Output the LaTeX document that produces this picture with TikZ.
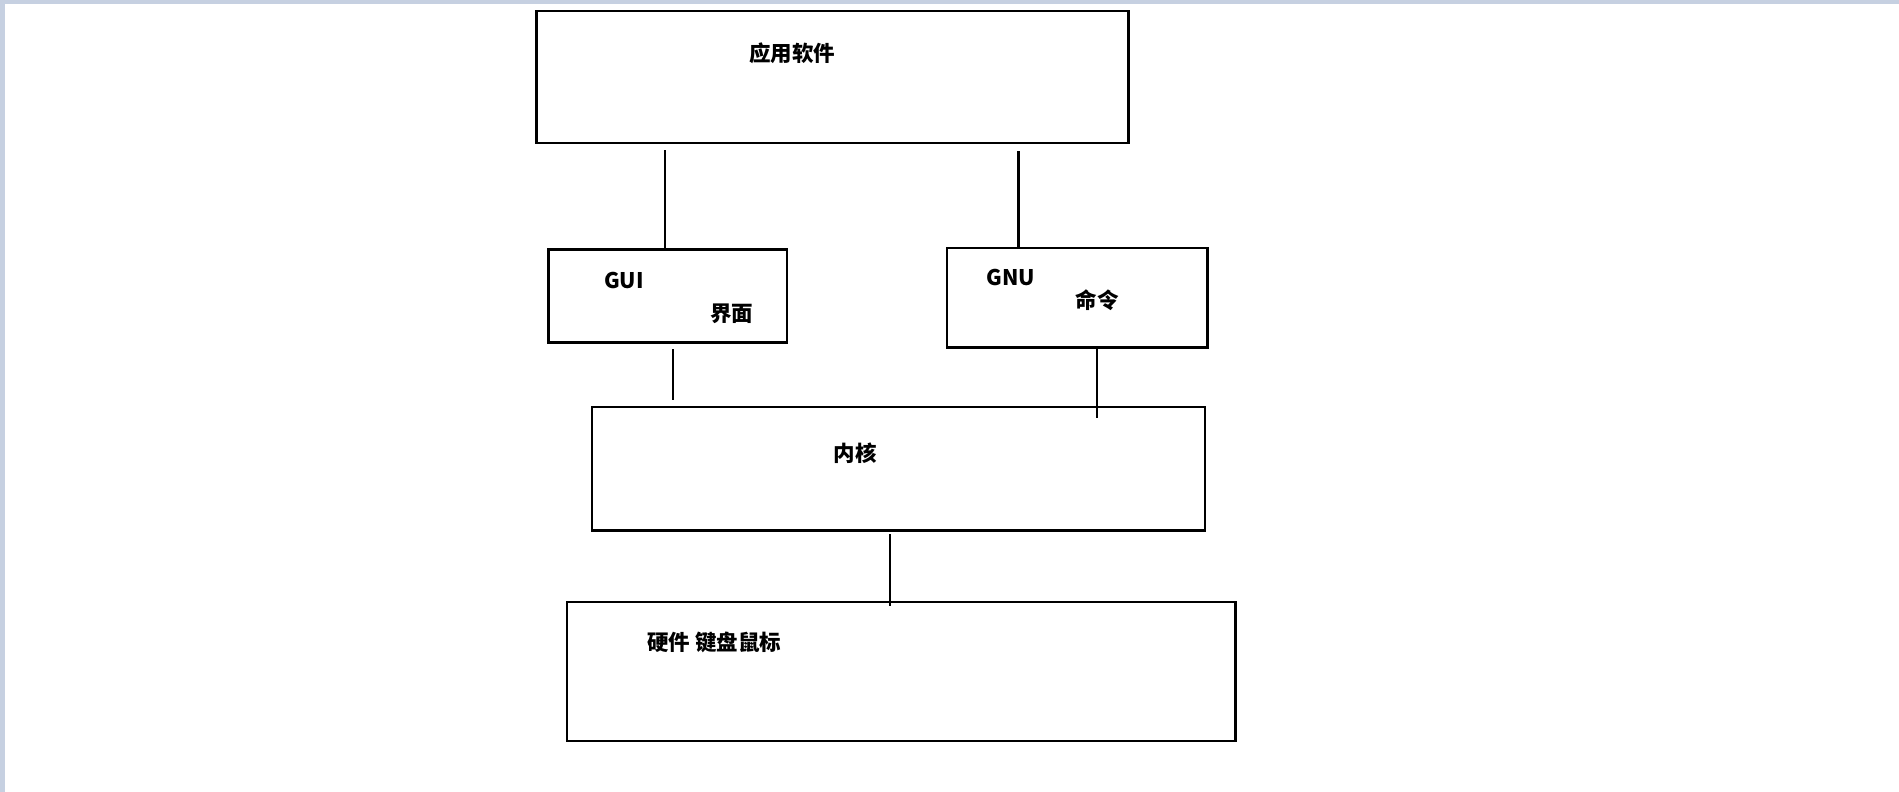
\documentclass[tikz,border=0pt]{standalone}
\usepackage{fontspec}
\setmainfont{Noto Sans CJK SC}
\definecolor{edgeblue}{HTML}{C6D0E1}
\tikzset{
  box/.style={draw=black, line width=2.5pt, rectangle, inner sep=0pt},
  lbl/.style={font=\fontsize{21.5}{25}\selectfont\bfseries, inner sep=0pt, anchor=center},
  conn/.style={draw=black, line width=2.5pt}
}
\begin{document}
\begin{tikzpicture}[x=1pt,y=-1pt]
\useasboundingbox (0,0) rectangle (1899,792);
\fill[white] (0,0) rectangle (1899,792);
\fill[edgeblue] (0,0) rectangle (1899,4.5);
\fill[edgeblue] (0,0) rectangle (5,792);
% boxes
\node[box, minimum width=592pt, minimum height=132pt] (app) at (832.6,76.9) {};
\node[box, minimum width=238.6pt, minimum height=93.2pt] (gui) at (667.9,296.1) {};
\node[box, minimum width=260.5pt, minimum height=99.6pt] (gnu) at (1077.3,297.8) {};
\node[box, minimum width=613pt, minimum height=123.5pt] (kern) at (898.5,468.7) {};
\node[box, minimum width=668.5pt, minimum height=139pt] (hw) at (901,671.5) {};
% labels
\node[lbl] (tapp) at (792,53) {应用软件};
\node[lbl] (tgui) at (624,281) {GUI};
\node[lbl] (tgui2) at (731.5,313.5) {界面};
\node[lbl] (tgnu) at (1011,277.5) {GNU};
\node[lbl] (tgnu2) at (1097,300) {命令};
\node[lbl] (tkern) at (855,453) {内核};
\node[lbl, anchor=west] (thw) at (647,642) {硬件 键盘鼠标};
% connector end points
\coordinate (c1a) at (665,150);
\coordinate (c1b) at (665,248);
\coordinate (c2a) at (1018.5,151);
\coordinate (c2b) at (1018.5,247);
\coordinate (c3a) at (673,349);
\coordinate (c3b) at (673,400);
\coordinate (c4a) at (1097,349);
\coordinate (c4b) at (1097,418);
\coordinate (c5a) at (890,534);
\coordinate (c5b) at (890,606);
\draw[conn] (c1a) -- (c1b);
\draw[conn] (c2a) -- (c2b);
\draw[conn] (c3a) -- (c3b);
\draw[conn] (c4a) -- (c4b);
\draw[conn] (c5a) -- (c5b);
\end{tikzpicture}
\end{document}
